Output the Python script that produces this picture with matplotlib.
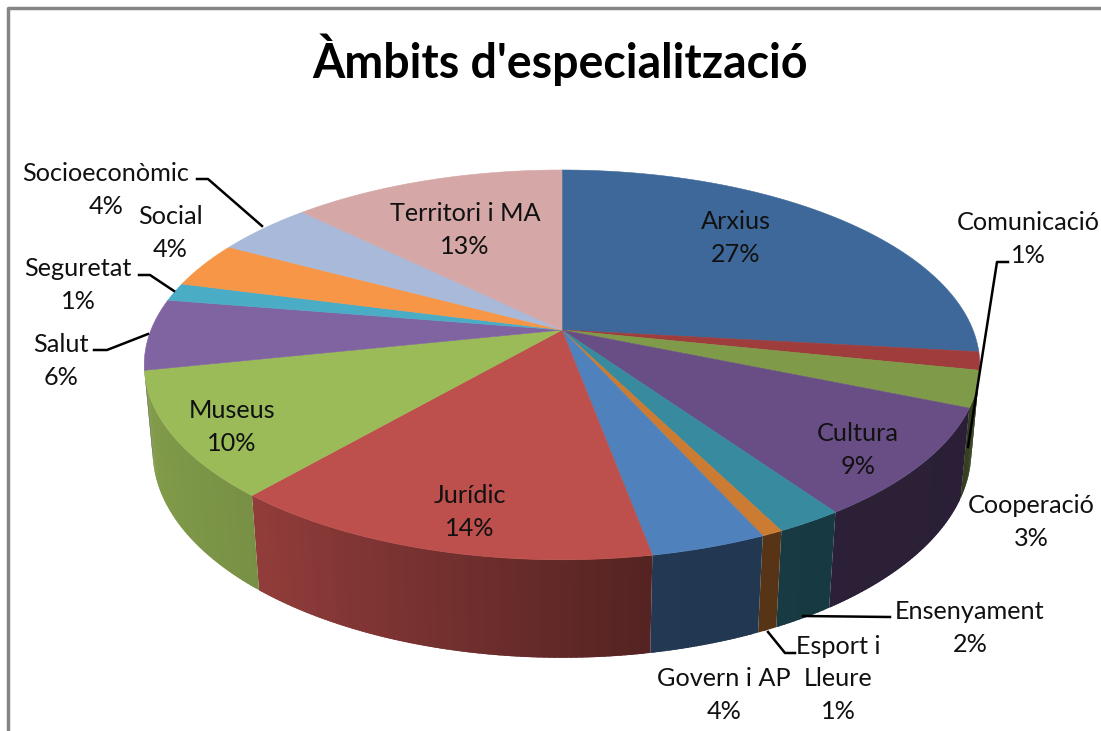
import numpy as np
import matplotlib
matplotlib.use('Agg')
import matplotlib.pyplot as plt
from matplotlib.colors import to_rgb

# Slice names, shares and printed percentages
labels = ['Arxius', 'Comunicació', 'Cooperació', 'Cultura', 'Ensenyament', 'Esport i\nLleure',
          'Govern i AP', 'Jurídic', 'Museus', 'Salut', 'Seguretat', 'Social',
          'Socioeconòmic', 'Territori i MA']
shares = [26.8, 1.5, 3.0, 9.1, 2.2, 0.7, 3.8, 14.2, 10.4, 5.9, 1.5, 3.8, 4.5, 12.6]
percents = [27, 1, 3, 9, 2, 1, 4, 14, 10, 6, 1, 4, 4, 13]
colors = ['#3E6899', '#9E3D3B', '#7F9A48', '#694E85', '#388B9F', '#CB7C32', '#4F81BD',
          '#BD4F4C', '#9BBB59', '#8064A2', '#4BACC6', '#F79646', '#A8B9D9', '#D5A7A7']

# Where each label sits (pixels of the reference)
label_pos = [(736, 238), (1028, 239), (1031, 522), (858, 450), (970, 628), (838, 679),
             (724, 695), (470, 512), (232, 427), (61, 361), (78, 285), (170, 233),
             (106, 190), (465, 230)]
leaders = [
    [(1008, 262), (997, 262), (968, 447)],
    [(890, 617), (803, 616)],
    [(795, 653), (785, 653), (768, 632)],
    [(94, 350), (107, 350), (148, 334)],
    [(139, 275), (150, 275), (174, 291)],
    [(197, 179), (208, 179), (262, 226)],
]

CX, CY = 562, 330
R = 411
PERSP = 0.179
TILT = 0.459
DEPTH = 87
SHRINK = 0.02
LINE_GAP = 32.5
# angles where the rim turns away from the viewer
WALL_FROM = np.pi - np.arcsin(np.sqrt(1 - PERSP ** 2))
WALL_TO = 2 * np.pi - WALL_FROM


def project(ang, radius=1.0, h=0.0):
    # angle clockwise from the top of the pie -> pixel position with perspective
    u = radius * np.sin(ang)
    v = radius * np.cos(ang)
    s = 1.0 / (1 + PERSP * v + SHRINK * h)
    return CX + R * u * s, CY + s * (-R * TILT * v + DEPTH * h)


def shade(color, ang):
    # front wall lighting: bright on the left, dark on the right
    x = np.sin(ang)
    f = np.interp(x, [-1, -0.65, 0.19, 0.6, 1], [0.84, 0.77, 0.44, 0.41, 0.40])
    return tuple(c * f for c in to_rgb(color))


plt.rcParams['font.family'] = ['Lato', 'DejaVu Sans']
fig = plt.figure(figsize=(11.01, 7.31), dpi=100)
ax = fig.add_axes([0, 0, 1, 1])
ax.set_xlim(0, 1101)
ax.set_ylim(731, 0)
ax.axis('off')

# grey chart frame, open at the right and bottom
ax.plot([8, 8, 1101], [731, 8, 8], color='#868686', lw=2.5, solid_capstyle='butt')

edges = np.cumsum([0] + shares) / sum(shares) * 2 * np.pi

# side wall, drawn only on the visible front part; each strip runs under the next one
for i, col in enumerate(colors):
    a0, a1 = edges[i], edges[i + 1]
    lo, hi = max(a0, WALL_FROM), min(a1, WALL_TO)
    if hi <= lo:
        continue
    steps = np.linspace(lo, hi, max(2, int((hi - lo) * 90)))
    for s0, s1 in zip(steps[:-1], steps[1:]):
        end = s1 if s1 == hi else s1 + 0.01
        seg = np.linspace(s0, end, 4)
        xt, yt = project(seg)
        xb, yb = project(seg[::-1], h=1.0)
        ax.fill(np.r_[xt, xb], np.r_[yt, yb], color=shade(col, (s0 + s1) / 2), lw=0, zorder=2)

# top face
for i, col in enumerate(colors):
    seg = np.linspace(edges[i], edges[i + 1], 80)
    x, y = project(seg)
    ax.fill(np.r_[CX, x], np.r_[CY, y], color=col, lw=0.4, zorder=3)

for pts in leaders:
    xs, ys = zip(*pts)
    ax.plot(xs, ys, color='black', lw=1.8, zorder=4, solid_joinstyle='round')

# each line is its own text so the staggered labels on the left stay apart
for name, pct, (x, y) in zip(labels, percents, label_pos):
    lines = f'{name}\n{pct}%'.split('\n')
    for k, line in enumerate(lines):
        ax.text(x, y + (k - (len(lines) - 1) / 2) * LINE_GAP, line, ha='center', va='center',
                fontsize=18.2, color='#111111', zorder=5)

ax.text(560, 60, "Àmbits d'especialització", ha='center', va='center', fontsize=33.5,
        fontweight='bold', color='black')

fig.savefig('out.png', dpi=100)
